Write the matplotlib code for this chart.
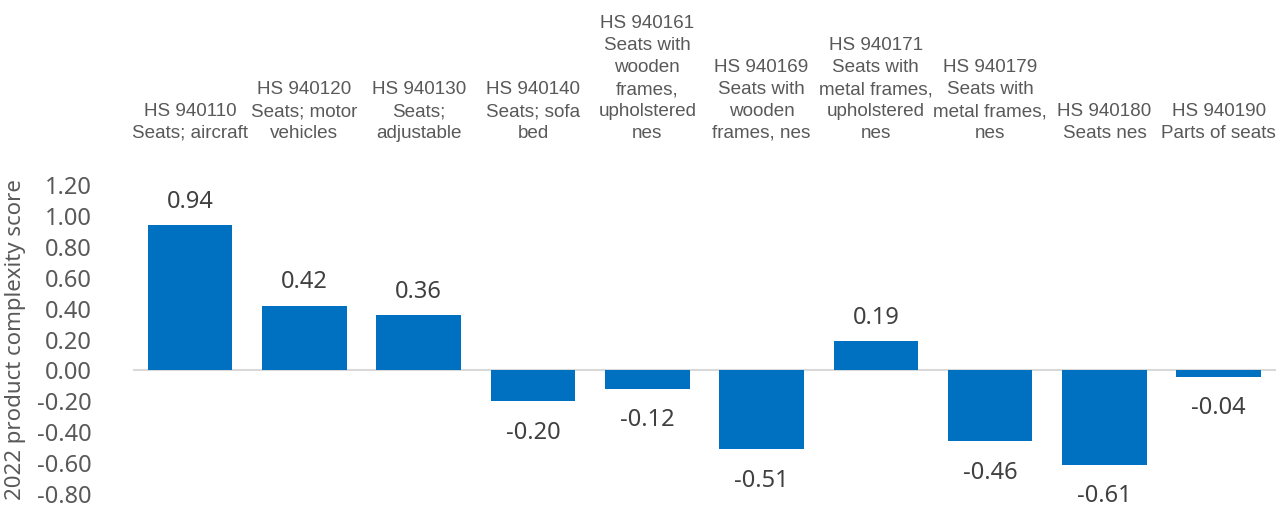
import matplotlib
matplotlib.use("Agg")
import matplotlib.pyplot as plt
import numpy as np

categories = [
    "HS 940110\nSeats; aircraft",
    "HS 940120\nSeats; motor\nvehicles",
    "HS 940130\nSeats;\nadjustable",
    "HS 940140\nSeats; sofa\nbed",
    "HS 940161\nSeats with\nwooden\nframes,\nupholstered\nnes",
    "HS 940169\nSeats with\nwooden\nframes, nes",
    "HS 940171\nSeats with\nmetal frames,\nupholstered\nnes",
    "HS 940179\nSeats with\nmetal frames,\nnes",
    "HS 940180\nSeats nes",
    "HS 940190\nParts of seats",
]
scores = [0.94, 0.42, 0.36, -0.20, -0.12, -0.51, 0.19, -0.46, -0.61, -0.04]
yticks = [-0.8, -0.6, -0.4, -0.2, 0.0, 0.2, 0.4, 0.6, 0.8, 1.0, 1.2]

BLUE = "#0070C0"
GREY = "#595959"
NUM_FONT = "Noto Sans"
CAT_FONT = "Liberation Sans"

fig = plt.figure(figsize=(12.81, 5.09), dpi=100)
ax = fig.add_axes([0.1038, 0.0295, 0.8922, 0.6070])

x = np.arange(len(scores))
ax.bar(x, scores, width=0.74, color=BLUE, zorder=2)
ax.axhline(0, color="#d9d9d9", lw=1.5, zorder=1)

ax.set_xlim(-0.5, len(scores) - 0.5)
ax.set_ylim(-0.8, 1.2)
ax.set_yticks(yticks)
ax.set_yticklabels([f"{v:.2f}" for v in yticks], fontsize=17, color=GREY, family=NUM_FONT)
ax.tick_params(axis="y", length=0, pad=30)
ax.set_xticks([])
for s in ax.spines.values():
    s.set_visible(False)

ax.set_ylabel("2022 product complexity score", fontsize=16, color=GREY, family=NUM_FONT, labelpad=8)

for i, v in enumerate(scores):
    if v >= 0:
        ax.annotate(f"{v:.2f}", (i, v), xytext=(0, 8), textcoords="offset points",
                    ha="center", va="bottom", fontsize=17, color="#404040", family=NUM_FONT)
    else:
        ax.annotate(f"{v:.2f}", (i, v), xytext=(0, -14), textcoords="offset points",
                    ha="center", va="top", fontsize=17, color="#404040", family=NUM_FONT)

for i, lab in enumerate(categories):
    ax.annotate(lab, (i, 1), xycoords=("data", "axes fraction"), xytext=(0, 31),
                textcoords="offset points", ha="center", va="bottom", fontsize=13.6,
                color=GREY, family=CAT_FONT, linespacing=1.38, annotation_clip=False)

fig.savefig("out.png", dpi=100)
